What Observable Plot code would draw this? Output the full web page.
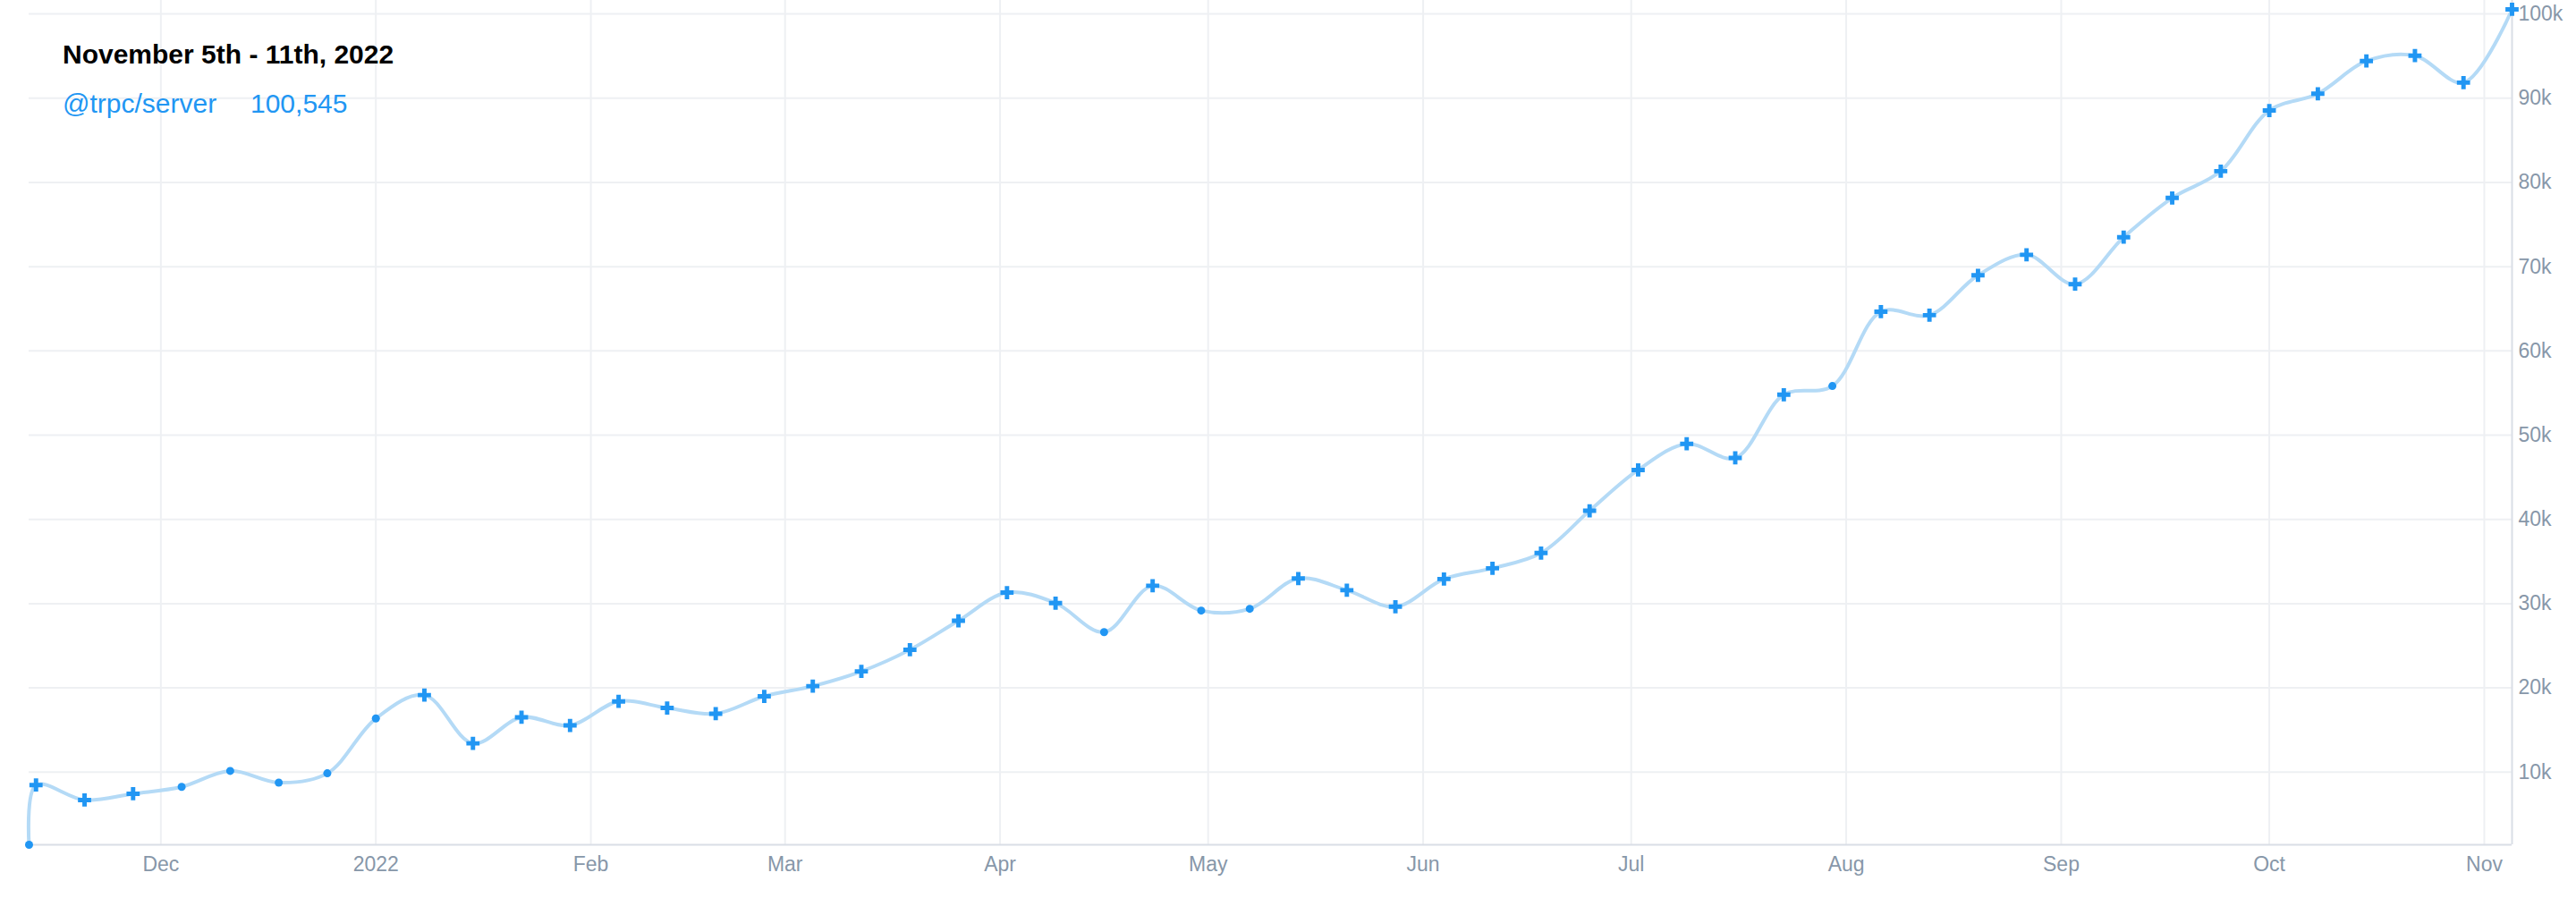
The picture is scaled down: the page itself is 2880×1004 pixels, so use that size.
<!DOCTYPE html>
<html>
<head>
<meta charset="utf-8">
<script src="https://cdn.jsdelivr.net/npm/d3@7"></script>
<script src="https://cdn.jsdelivr.net/npm/@observablehq/plot@0.6"></script>
<style>
  html, body { margin: 0; padding: 0; background: #ffffff; overflow: hidden; }
  #wrap { position: relative; width: 2880px; height: 1004px; font-family: "Helvetica Neue", Helvetica, Arial, "Liberation Sans", sans-serif; }
  #chart svg { display: block; }
  .overlay { position: absolute; font-size: 30px; line-height: 30px; white-space: nowrap; }
  #title { left: 70px; top: 46px; font-weight: bold; color: #000000; }
  #legName { left: 70px; top: 101px; color: #2196f3; }
  #legValue { left: 280px; top: 101px; color: #2196f3; }
</style>
</head>
<body>
<div id="wrap">
  <div id="chart"></div>
  <div id="title" class="overlay"></div>
  <div id="legName" class="overlay"></div>
  <div id="legValue" class="overlay"></div>
</div>
<script>
// ---- data ----
const periodTitle = "November 5th - 11th, 2022";
const seriesName = "@trpc/server";

const dates = [
  "2021-11-12", "2021-11-13", "2021-11-20", "2021-11-27", "2021-12-04", "2021-12-11",
  "2021-12-18", "2021-12-25", "2022-01-01", "2022-01-08", "2022-01-15", "2022-01-22",
  "2022-01-29", "2022-02-05", "2022-02-12", "2022-02-19", "2022-02-26", "2022-03-05",
  "2022-03-12", "2022-03-19", "2022-03-26", "2022-04-02", "2022-04-09", "2022-04-16",
  "2022-04-23", "2022-04-30", "2022-05-07", "2022-05-14", "2022-05-21", "2022-05-28",
  "2022-06-04", "2022-06-11", "2022-06-18", "2022-06-25", "2022-07-02", "2022-07-09",
  "2022-07-16", "2022-07-23", "2022-07-30", "2022-08-06", "2022-08-13", "2022-08-20",
  "2022-08-27", "2022-09-03", "2022-09-10", "2022-09-17", "2022-09-24", "2022-10-01",
  "2022-10-08", "2022-10-15", "2022-10-22", "2022-10-29", "2022-11-05"
];

const downloads = [
  1380, 8470, 6690, 7440, 8260, 10150,
  8760, 9860, 16370, 19150, 13420, 16510,
  15550, 18400, 17620, 16940, 19000, 20210,
  21960, 24530, 27970, 31310, 30070, 26620,
  32130, 29180, 29390, 32990, 31600, 29640,
  32920, 34200, 36010, 41030, 45870, 48970,
  47300, 54800, 55830, 64660, 64240, 68980,
  71410, 67920, 73500, 78160, 81340, 88540,
  90530, 94410, 95050, 91850, 100545
];

// marker kind per point: "circle" or "cross"
const pointKind = [
  "circle", "cross", "cross", "cross", "circle", "circle",
  "circle", "circle", "circle", "cross", "cross", "cross",
  "cross", "cross", "cross", "cross", "cross", "cross",
  "cross", "cross", "cross", "cross", "cross", "circle",
  "cross", "circle", "circle", "cross", "cross", "cross",
  "cross", "cross", "cross", "cross", "cross", "cross",
  "cross", "cross", "circle", "cross", "cross", "cross",
  "cross", "cross", "cross", "cross", "cross", "cross",
  "cross", "cross", "cross", "cross", "cross"
];

const xTicks = [
  "2021-12-01", "2022-01-01", "2022-02-01", "2022-03-01", "2022-04-01", "2022-05-01",
  "2022-06-01", "2022-07-01", "2022-08-01", "2022-09-01", "2022-10-01", "2022-11-01"
];
const xTickLabels = ["Dec", "2022", "Feb", "Mar", "Apr", "May", "Jun", "Jul", "Aug", "Sep", "Oct", "Nov"];

const yTicks = [10000, 20000, 30000, 40000, 50000, 60000, 70000, 80000, 90000, 100000];
const yTickLabels = ["10k", "20k", "30k", "40k", "50k", "60k", "70k", "80k", "90k", "100k"];

const xDomain = ["2021-11-12", "2022-11-05"];
const yDomain = [1380, 101600];

// ---- build ----
const parse = d3.utcParse("%Y-%m-%d");
const data = dates.map((d, i) => ({ date: parse(d), value: downloads[i], kind: pointKind[i] }));
const tickDates = xTicks.map(parse);
const tickTimes = tickDates.map(d => d.getTime());

const axisColor = "#8797a9";
const gridColor = "#eef0f3";
const lineColor = "#b4daf6";
const markerColor = "#2196f3";
const frameColor = "#d9dee6";

const chart = Plot.plot({
  width: 2880,
  height: 1004,
  marginLeft: 32,
  marginRight: 72,
  marginTop: 0,
  marginBottom: 60,
  style: {
    background: "transparent",
    fontFamily: "\"Helvetica Neue\", Helvetica, Arial, \"Liberation Sans\", sans-serif",
    overflow: "visible"
  },
  x: { type: "utc", domain: xDomain.map(parse) },
  y: { domain: yDomain },
  marks: [
    Plot.gridX(tickDates, { stroke: gridColor, strokeOpacity: 1, strokeWidth: 2 }),
    Plot.gridY(yTicks, { stroke: gridColor, strokeOpacity: 1, strokeWidth: 2 }),
    Plot.ruleY([yDomain[0]], { stroke: frameColor, strokeWidth: 2 }),
    Plot.ruleX([parse(xDomain[1])], { stroke: frameColor, strokeWidth: 2 }),
    Plot.axisX(tickDates, {
      tickSize: 0,
      tickPadding: 13,
      fontSize: 23,
      fill: axisColor,
      label: null,
      tickFormat: d => xTickLabels[tickTimes.indexOf(d.getTime())]
    }),
    Plot.axisY(yTicks, {
      anchor: "right",
      tickSize: 0,
      tickPadding: 7,
      fontSize: 23,
      fill: axisColor,
      label: null,
      tickFormat: d => yTickLabels[yTicks.indexOf(d)]
    }),
    Plot.line(data, { x: "date", y: "value", curve: "catmull-rom", stroke: lineColor, strokeWidth: 4 }),
    Plot.dot(data.filter(d => d.kind === "circle"), { x: "date", y: "value", r: 4.5, fill: markerColor }),
    Plot.dot(data.filter(d => d.kind === "cross"), { x: "date", y: "value", symbol: "cross", r: 6.2, fill: markerColor })
  ]
});

document.getElementById("chart").appendChild(chart);
document.getElementById("title").textContent = periodTitle;
document.getElementById("legName").textContent = seriesName;
document.getElementById("legValue").textContent = d3.format(",")(downloads[downloads.length - 1]);
</script>
</body>
</html>
